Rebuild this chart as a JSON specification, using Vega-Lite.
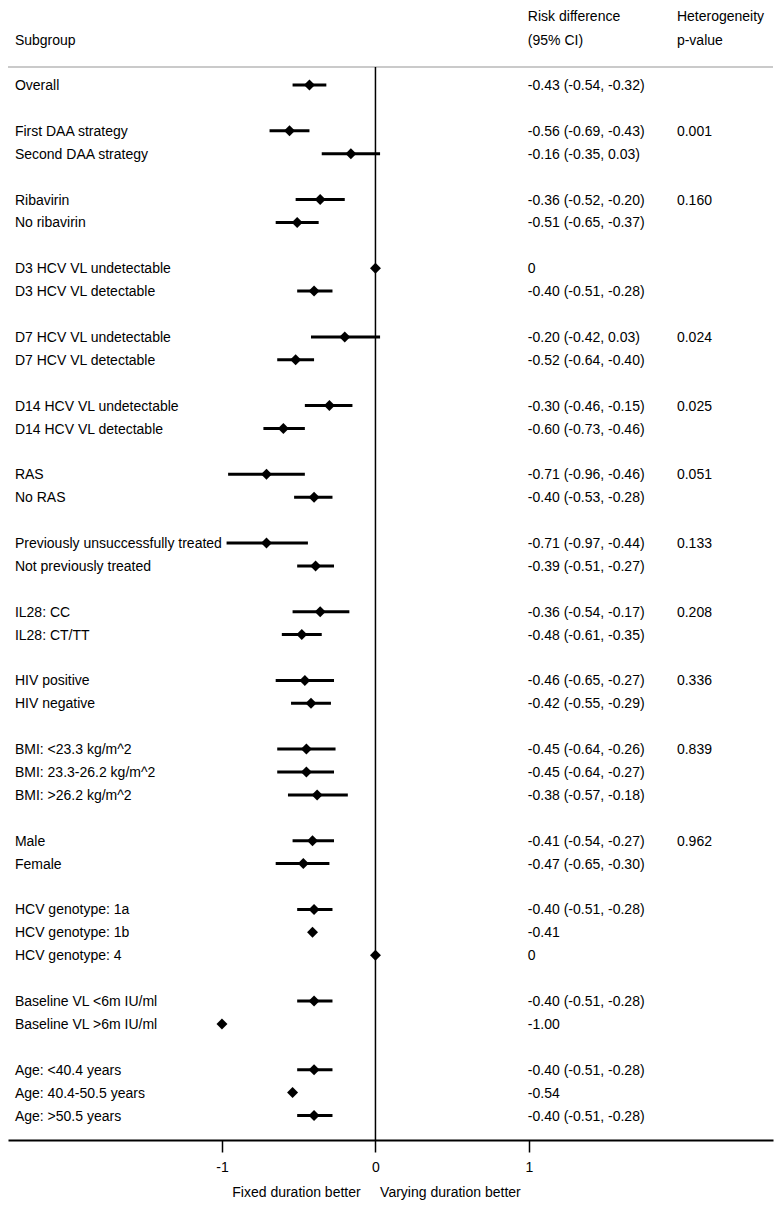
{
  "$schema": "https://vega.github.io/schema/vega-lite/v6.json",
  "autosize": {"type": "none"},
  "width": 765,
  "height": 1140,
  "padding": {"left": 8, "top": 0, "right": 9, "bottom": 71},
  "background": "white",
  "config": {
    "view": {"stroke": null},
    "font": "Liberation Sans",
    "text": {"font": "Liberation Sans", "fontSize": 14, "color": "#000000"}
  },
  "datasets": {
    "rows": [
      {"label": "Overall", "est": -0.43, "lo": -0.54, "hi": -0.32, "rd": "-0.43 (-0.54, -0.32)", "p": ""},
      {"label": "First DAA strategy", "est": -0.56, "lo": -0.69, "hi": -0.43, "rd": "-0.56 (-0.69, -0.43)", "p": "0.001"},
      {"label": "Second DAA strategy", "est": -0.16, "lo": -0.35, "hi": 0.03, "rd": "-0.16 (-0.35, 0.03)", "p": ""},
      {"label": "Ribavirin", "est": -0.36, "lo": -0.52, "hi": -0.20, "rd": "-0.36 (-0.52, -0.20)", "p": "0.160"},
      {"label": "No ribavirin", "est": -0.51, "lo": -0.65, "hi": -0.37, "rd": "-0.51 (-0.65, -0.37)", "p": ""},
      {"label": "D3 HCV VL undetectable", "est": 0, "lo": null, "hi": null, "rd": "0", "p": ""},
      {"label": "D3 HCV VL detectable", "est": -0.40, "lo": -0.51, "hi": -0.28, "rd": "-0.40 (-0.51, -0.28)", "p": ""},
      {"label": "D7 HCV VL undetectable", "est": -0.20, "lo": -0.42, "hi": 0.03, "rd": "-0.20 (-0.42, 0.03)", "p": "0.024"},
      {"label": "D7 HCV VL detectable", "est": -0.52, "lo": -0.64, "hi": -0.40, "rd": "-0.52 (-0.64, -0.40)", "p": ""},
      {"label": "D14 HCV VL undetectable", "est": -0.30, "lo": -0.46, "hi": -0.15, "rd": "-0.30 (-0.46, -0.15)", "p": "0.025"},
      {"label": "D14 HCV VL detectable", "est": -0.60, "lo": -0.73, "hi": -0.46, "rd": "-0.60 (-0.73, -0.46)", "p": ""},
      {"label": "RAS", "est": -0.71, "lo": -0.96, "hi": -0.46, "rd": "-0.71 (-0.96, -0.46)", "p": "0.051"},
      {"label": "No RAS", "est": -0.40, "lo": -0.53, "hi": -0.28, "rd": "-0.40 (-0.53, -0.28)", "p": ""},
      {"label": "Previously unsuccessfully treated", "est": -0.71, "lo": -0.97, "hi": -0.44, "rd": "-0.71 (-0.97, -0.44)", "p": "0.133"},
      {"label": "Not previously treated", "est": -0.39, "lo": -0.51, "hi": -0.27, "rd": "-0.39 (-0.51, -0.27)", "p": ""},
      {"label": "IL28: CC", "est": -0.36, "lo": -0.54, "hi": -0.17, "rd": "-0.36 (-0.54, -0.17)", "p": "0.208"},
      {"label": "IL28: CT/TT", "est": -0.48, "lo": -0.61, "hi": -0.35, "rd": "-0.48 (-0.61, -0.35)", "p": ""},
      {"label": "HIV positive", "est": -0.46, "lo": -0.65, "hi": -0.27, "rd": "-0.46 (-0.65, -0.27)", "p": "0.336"},
      {"label": "HIV negative", "est": -0.42, "lo": -0.55, "hi": -0.29, "rd": "-0.42 (-0.55, -0.29)", "p": ""},
      {"label": "BMI: <23.3 kg/m^2", "est": -0.45, "lo": -0.64, "hi": -0.26, "rd": "-0.45 (-0.64, -0.26)", "p": "0.839"},
      {"label": "BMI: 23.3-26.2 kg/m^2", "est": -0.45, "lo": -0.64, "hi": -0.27, "rd": "-0.45 (-0.64, -0.27)", "p": ""},
      {"label": "BMI: >26.2 kg/m^2", "est": -0.38, "lo": -0.57, "hi": -0.18, "rd": "-0.38 (-0.57, -0.18)", "p": ""},
      {"label": "Male", "est": -0.41, "lo": -0.54, "hi": -0.27, "rd": "-0.41 (-0.54, -0.27)", "p": "0.962"},
      {"label": "Female", "est": -0.47, "lo": -0.65, "hi": -0.30, "rd": "-0.47 (-0.65, -0.30)", "p": ""},
      {"label": "HCV genotype: 1a", "est": -0.40, "lo": -0.51, "hi": -0.28, "rd": "-0.40 (-0.51, -0.28)", "p": ""},
      {"label": "HCV genotype: 1b", "est": -0.41, "lo": null, "hi": null, "rd": "-0.41", "p": ""},
      {"label": "HCV genotype: 4", "est": 0, "lo": null, "hi": null, "rd": "0", "p": ""},
      {"label": "Baseline VL <6m IU/ml", "est": -0.40, "lo": -0.51, "hi": -0.28, "rd": "-0.40 (-0.51, -0.28)", "p": ""},
      {"label": "Baseline VL >6m IU/ml", "est": -1.00, "lo": null, "hi": null, "rd": "-1.00", "p": ""},
      {"label": "Age: <40.4 years", "est": -0.40, "lo": -0.51, "hi": -0.28, "rd": "-0.40 (-0.51, -0.28)", "p": ""},
      {"label": "Age: 40.4-50.5 years", "est": -0.54, "lo": null, "hi": null, "rd": "-0.54", "p": ""},
      {"label": "Age: >50.5 years", "est": -0.40, "lo": -0.51, "hi": -0.28, "rd": "-0.40 (-0.51, -0.28)", "p": ""}
    ],
    "one": [{}]
  },
  "layer": [
    {
      "data": {"name": "one"},
      "mark": {"type": "rule", "color": "#b8b8b8", "strokeWidth": 1.5, "yOffset": 5},
      "encoding": {
        "y": {"datum": "R0", "type": "ordinal", "axis": null,
          "scale": {"type": "point", "padding": 0, "range": [16.3, 1138.4],
            "domain": ["H1","H2","R0","Overall","S1","First DAA strategy","Second DAA strategy","S2","Ribavirin","No ribavirin","S3","D3 HCV VL undetectable","D3 HCV VL detectable","S4","D7 HCV VL undetectable","D7 HCV VL detectable","S5","D14 HCV VL undetectable","D14 HCV VL detectable","S6","RAS","No RAS","S7","Previously unsuccessfully treated","Not previously treated","S8","IL28: CC","IL28: CT/TT","S9","HIV positive","HIV negative","S10","BMI: <23.3 kg/m^2","BMI: 23.3-26.2 kg/m^2","BMI: >26.2 kg/m^2","S11","Male","Female","S12","HCV genotype: 1a","HCV genotype: 1b","HCV genotype: 4","S13","Baseline VL <6m IU/ml","Baseline VL >6m IU/ml","S14","Age: <40.4 years","Age: 40.4-50.5 years","Age: >50.5 years","E"]}}
      }
    },
    {
      "data": {"name": "one"},
      "mark": {"type": "rule", "color": "#000000", "strokeWidth": 1.5, "yOffset": 5, "y2Offset": 2},
      "encoding": {
        "x": {"datum": 0, "type": "quantitative",
          "scale": {"domain": [-2.394, 2.59], "nice": false, "zero": false},
          "axis": {"values": [-1, 0, 1], "grid": false, "domainColor": "#000000", "domainWidth": 2,
            "tickColor": "#000000", "tickWidth": 1.5, "tickSize": 12, "labelFontSize": 14, "labelColor": "#000000",
            "labelFont": "Liberation Sans", "labelPadding": 8, "labelFlush": false,
            "labelExpr": "toString(datum.value)",
            "title": "Fixed duration better\u00a0\u00a0\u00a0\u00a0\u00a0Varying duration better",
            "titleFont": "Liberation Sans", "titleFontSize": 14, "titleFontWeight": "normal", "titleColor": "#000000",
            "titleX": 368, "titleAlign": "center", "titlePadding": 11}},
        "y": {"datum": "R0", "type": "ordinal"},
        "y2": {"datum": "E"}
      }
    },
    {
      "data": {"name": "rows"},
      "transform": [{"filter": "isValid(datum.lo)"}],
      "mark": {"type": "rule", "color": "#000000", "strokeWidth": 3},
      "encoding": {
        "x": {"field": "lo", "type": "quantitative"},
        "x2": {"field": "hi"},
        "y": {"field": "label", "type": "ordinal"}
      }
    },
    {
      "data": {"name": "rows"},
      "mark": {"type": "point", "shape": "diamond", "filled": true, "color": "#000000", "size": 120, "opacity": 1},
      "encoding": {
        "x": {"field": "est", "type": "quantitative"},
        "y": {"field": "label", "type": "ordinal"}
      }
    },
    {
      "data": {"name": "rows"},
      "mark": {"type": "text", "align": "left", "baseline": "middle", "dy": 1},
      "encoding": {
        "x": {"datum": -2.349, "type": "quantitative"},
        "y": {"field": "label", "type": "ordinal"},
        "text": {"field": "label"}
      }
    },
    {
      "data": {"name": "rows"},
      "mark": {"type": "text", "align": "left", "baseline": "middle", "dy": 1},
      "encoding": {
        "x": {"datum": 0.993, "type": "quantitative"},
        "y": {"field": "label", "type": "ordinal"},
        "text": {"field": "rd"}
      }
    },
    {
      "data": {"name": "rows"},
      "mark": {"type": "text", "align": "left", "baseline": "middle", "dy": 1},
      "encoding": {
        "x": {"datum": 1.964, "type": "quantitative"},
        "y": {"field": "label", "type": "ordinal"},
        "text": {"field": "p"}
      }
    },
    {
      "data": {"name": "one"},
      "mark": {"type": "text", "align": "left", "baseline": "middle", "dy": 2},
      "encoding": {
        "x": {"datum": -2.349, "type": "quantitative"},
        "y": {"datum": "H2", "type": "ordinal"},
        "text": {"value": "Subgroup"}
      }
    },
    {
      "data": {"name": "one"},
      "mark": {"type": "text", "align": "left", "baseline": "middle", "dy": 1},
      "encoding": {
        "x": {"datum": 0.993, "type": "quantitative"},
        "y": {"datum": "H1", "type": "ordinal"},
        "text": {"value": "Risk difference"}
      }
    },
    {
      "data": {"name": "one"},
      "mark": {"type": "text", "align": "left", "baseline": "middle", "dy": 2},
      "encoding": {
        "x": {"datum": 0.993, "type": "quantitative"},
        "y": {"datum": "H2", "type": "ordinal"},
        "text": {"value": "(95% CI)"}
      }
    },
    {
      "data": {"name": "one"},
      "mark": {"type": "text", "align": "left", "baseline": "middle", "dy": 1},
      "encoding": {
        "x": {"datum": 1.964, "type": "quantitative"},
        "y": {"datum": "H1", "type": "ordinal"},
        "text": {"value": "Heterogeneity"}
      }
    },
    {
      "data": {"name": "one"},
      "mark": {"type": "text", "align": "left", "baseline": "middle", "dy": 2},
      "encoding": {
        "x": {"datum": 1.964, "type": "quantitative"},
        "y": {"datum": "H2", "type": "ordinal"},
        "text": {"value": "p-value"}
      }
    }
  ]
}
